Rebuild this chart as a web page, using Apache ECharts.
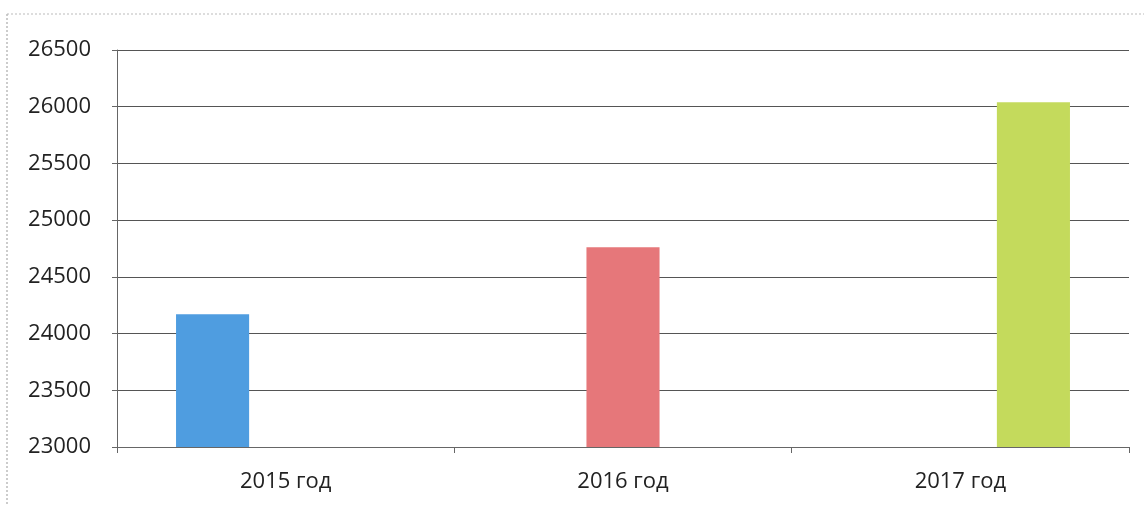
<!DOCTYPE html>
<html><head><meta charset="utf-8">
<script src="https://cdn.jsdelivr.net/npm/echarts@6/dist/echarts.min.js"></script>
<style>html,body{margin:0;padding:0;background:#fff}#c{width:1144px;height:506px}</style>
</head><body><div id="c"></div>
<script>
const categories = ['2015 год', '2016 год', '2017 год'];
const values2015 = [24170, null, null];
const values2016 = [null, 24760, null];
const values2017 = [null, null, 26040];
const colors = ['#4f9de0', '#e6777a', '#c4da5c'];

const chart = echarts.init(document.getElementById('c'));
const mk = (data, color) => ({
  type: 'bar', data: data, barGap: '0%', barCategoryGap: '35%',
  itemStyle: { color: color }
});
chart.setOption({
  animation: false,
  grid: { left: 117, right: 15, top: 50, bottom: 59 },
  xAxis: {
    type: 'category', data: categories,
    axisLine: { lineStyle: { color: '#666', width: 1 } },
    axisTick: { show: true, length: 6, lineStyle: { color: '#666' } },
    axisLabel: { color: '#222', fontSize: 22, fontFamily: 'Open Sans', margin: 24 }
  },
  yAxis: {
    type: 'value', min: 23000, max: 26500, interval: 500,
    axisLine: { show: true, lineStyle: { color: '#666' } },
    axisTick: { show: true, length: 5, lineStyle: { color: '#666' } },
    axisLabel: { color: '#222', fontSize: 22, fontFamily: 'Open Sans', margin: 26,
      formatter: function (v) { return String(v); } },
    splitLine: { lineStyle: { color: '#555', width: 1 } }
  },
  graphic: [
    { type: 'line', shape: { x1: 7, y1: 14, x2: 7, y2: 506 }, style: { stroke: '#999', lineWidth: 1, lineDash: [2, 2] } },
    { type: 'line', shape: { x1: 7, y1: 14, x2: 1144, y2: 14 }, style: { stroke: '#bbb', lineWidth: 1, lineDash: [2, 2] } }
  ],
  series: [mk(values2015, colors[0]), mk(values2016, colors[1]), mk(values2017, colors[2])]
});
</script></body></html>
